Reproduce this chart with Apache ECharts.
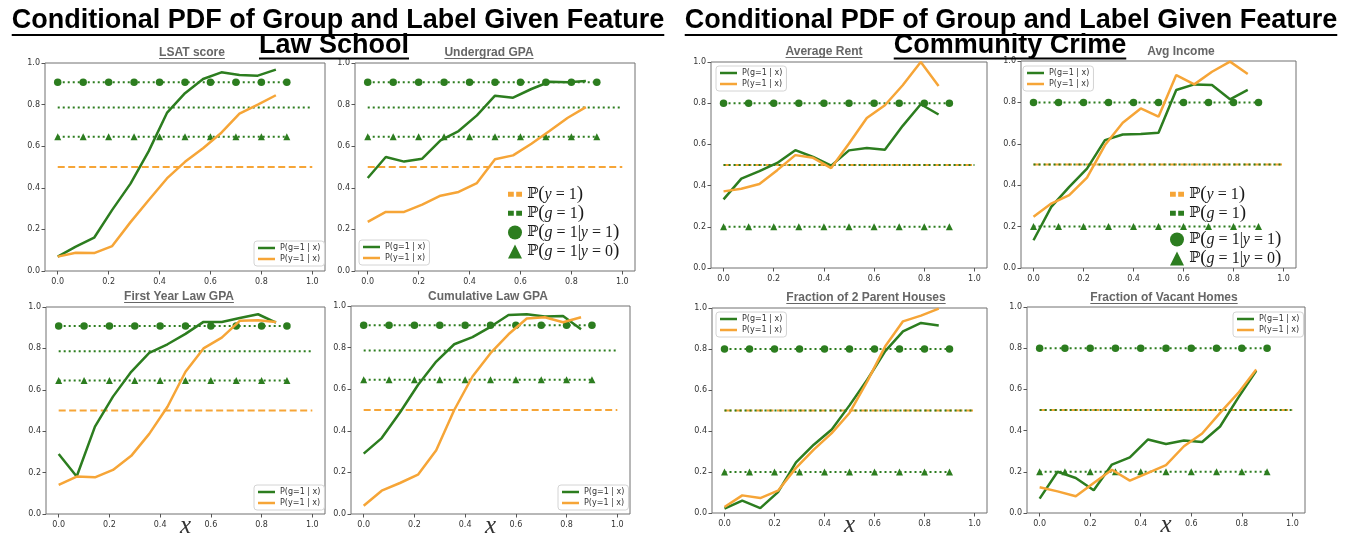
<!DOCTYPE html>
<html>
<head>
<meta charset="utf-8">
<script src="https://cdn.jsdelivr.net/npm/echarts@6/dist/echarts.min.js"></script>
<style>
  html, body { margin: 0; padding: 0; background: #fff; }
  #chart { width: 1350px; height: 538px; }
</style>
</head>
<body>
<div id="chart"></div>
<script>
// ---- data -------------------------------------------------------------
// feature bins (normalised feature value) of the conditional estimates
const binX = [0, 0.071, 0.143, 0.214, 0.286, 0.357, 0.429, 0.5, 0.571, 0.643, 0.714, 0.786, 0.857];
// positions of the marker rows and the reference lines
const markerX = [0, 0.1, 0.2, 0.3, 0.4, 0.5, 0.6, 0.7, 0.8, 0.9];
const baseX = [0, 1];
const xTicks = [0, 0.2, 0.4, 0.6, 0.8, 1.0];

const suptitle = 'Conditional PDF of Group and Label Given Feature';
const datasetNames = ['Law School', 'Community Crime'];
const featureNames = ['LSAT score', 'Undergrad GPA', 'First Year Law GPA', 'Cumulative Law GPA',
                      'Average Rent', 'Avg Income', 'Fraction of 2 Parent Houses', 'Fraction of Vacant Homes'];

// Law School: P(g=1 | x) and P(y=1 | x)
const lsatG = [0.069, 0.117, 0.16, 0.294, 0.42, 0.575, 0.76, 0.855, 0.923, 0.955, 0.942, 0.939, 0.968];
const lsatY = [0.069, 0.088, 0.086, 0.12, 0.235, 0.34, 0.445, 0.525, 0.59, 0.665, 0.757, 0.80, 0.845];
const ugpaG = [0.447, 0.548, 0.526, 0.54, 0.628, 0.673, 0.748, 0.843, 0.833, 0.875, 0.91, 0.907, 0.913];
const ugpaY = [0.236, 0.284, 0.284, 0.319, 0.362, 0.38, 0.423, 0.537, 0.556, 0.612, 0.673, 0.737, 0.788];
const fyaG = [0.29, 0.181, 0.422, 0.567, 0.687, 0.778, 0.82, 0.87, 0.928, 0.928, 0.947, 0.965, 0.925];
const fyaY = [0.141, 0.181, 0.177, 0.213, 0.281, 0.387, 0.518, 0.687, 0.80, 0.852, 0.933, 0.936, 0.928];
const cumG = [0.29, 0.365, 0.488, 0.62, 0.733, 0.816, 0.85, 0.9, 0.957, 0.96, 0.949, 0.952, 0.888];
const cumY = [0.04, 0.112, 0.149, 0.189, 0.306, 0.5, 0.661, 0.773, 0.864, 0.94, 0.946, 0.922, 0.946];

// Community Crime: P(g=1 | x) and P(y=1 | x)
const rentG = [0.333, 0.434, 0.47, 0.51, 0.572, 0.539, 0.497, 0.571, 0.582, 0.574, 0.69, 0.795, 0.745];
const rentY = [0.372, 0.385, 0.408, 0.475, 0.548, 0.535, 0.485, 0.604, 0.728, 0.79, 0.887, 1.0, 0.884];
const incG = [0.134, 0.295, 0.392, 0.48, 0.618, 0.645, 0.647, 0.653, 0.86, 0.887, 0.884, 0.815, 0.86];
const incY = [0.247, 0.311, 0.352, 0.437, 0.594, 0.702, 0.771, 0.731, 0.932, 0.887, 0.948, 0.997, 0.937];
const parG = [0.021, 0.06, 0.024, 0.102, 0.247, 0.333, 0.407, 0.525, 0.65, 0.79, 0.886, 0.927, 0.915];
const parY = [0.029, 0.086, 0.073, 0.109, 0.22, 0.309, 0.39, 0.488, 0.642, 0.813, 0.935, 0.963, 0.997];
const vacG = [0.07, 0.2, 0.17, 0.11, 0.235, 0.27, 0.357, 0.335, 0.352, 0.345, 0.42, 0.56, 0.69];
const vacY = [0.125, 0.105, 0.081, 0.146, 0.21, 0.157, 0.195, 0.232, 0.324, 0.386, 0.486, 0.583, 0.697];

// marginal / conditional reference values: [P(y=1), P(g=1), P(g=1|y=1), P(g=1|y=0)]
const lawRefs = [0.5, 0.786, 0.908, 0.645];
const crimeRefs = [0.5, 0.5, 0.8, 0.2];

// ---- layout -----------------------------------------------------------
const GREEN = '#2c7d1f';
const ORANGE = '#f6a537';
const TICK_FONT = 'DejaVu Sans';

const curves = [[lsatG, lsatY], [ugpaG, ugpaY], [fyaG, fyaY], [cumG, cumY],
                [rentG, rentY], [incG, incY], [parG, parY], [vacG, vacY]];
const refs = [lawRefs, lawRefs, lawRefs, lawRefs, crimeRefs, crimeRefs, crimeRefs, crimeRefs];

const panels = [
  { box: [45, 63, 280, 208],  title: [192, 52.5],  ul: true,  legend: [254, 241],  xName: false },
  { box: [355, 63, 280, 208], title: [489, 52.5],  ul: true,  legend: [359, 240],  xName: false },
  { box: [46, 307, 279, 207], title: [179, 296.5], ul: true,  legend: [254, 485],  xName: true },
  { box: [351, 306, 279, 208], title: [488, 296.5], ul: false, legend: [558, 485], xName: true },
  { box: [711, 62, 276, 206], title: [824, 51.5],  ul: true,  legend: [716, 66],   xName: false },
  { box: [1021, 61, 275, 207], title: [1181, 51.5], ul: false, legend: [1023, 66], xName: false },
  { box: [712, 308, 275, 205], title: [866, 297.5], ul: true, legend: [716, 312],  xName: true },
  { box: [1027, 307, 278, 206], title: [1164, 297.5], ul: true, legend: [1233, 312], xName: true }
];

const N_G = 'P(g=1 | x)', N_Y = 'P(y=1 | x)';
const M_Y = 'ℙ(y = 1)', M_G = 'ℙ(g = 1)', M_G1 = 'ℙ(g = 1|y = 1)', M_G0 = 'ℙ(g = 1|y = 0)';

const mathText = {};
mathText[M_Y] = '{bb|ℙ}{p|(}{i|y}{n| = 1}{p|)}';
mathText[M_G] = '{bb|ℙ}{p|(}{i|g}{n| = 1}{p|)}';
mathText[M_G1] = '{bb|ℙ}{p|(}{i|g}{n| = 1|}{i|y}{n| = 1}{p|)}';
mathText[M_G0] = '{bb|ℙ}{p|(}{i|g}{n| = 1|}{i|y}{n| = 0}{p|)}';

function mathRich(lh) {
  return {
    bb: { fontFamily: 'DejaVu Serif', fontSize: 15, color: '#1a1a1a', lineHeight: lh },
    p:  { fontFamily: 'Liberation Serif', fontSize: 19, color: '#1a1a1a', lineHeight: lh },
    i:  { fontFamily: 'Liberation Serif', fontStyle: 'italic', fontSize: 16, color: '#1a1a1a', lineHeight: lh },
    n:  { fontFamily: 'Liberation Serif', fontSize: 16, color: '#1a1a1a', lineHeight: lh }
  };
}
// two small squares, padded to a square bounding box
const dashIcon = 'path://M0,4.5h6v5h-6zM8.5,4.5h6v5h-6zM0,0h0.01v0.01h-0.01zM14.5,14.5h-0.01v-0.01h0.01z';

function mathLegend(left, top, names, lh) {
  const icons = {};
  icons[M_Y] = dashIcon; icons[M_G] = dashIcon; icons[M_G1] = 'circle'; icons[M_G0] = 'triangle';
  return {
    left: left, top: top, orient: 'vertical', selectedMode: false,
    itemWidth: 14, itemHeight: 14, itemGap: 0, padding: 0,
    data: names.map(n => ({ name: n, icon: icons[n] })),
    formatter: n => mathText[n],
    textStyle: { rich: mathRich(lh) }
  };
}

const grids = [], xAxes = [], yAxes = [], series = [], legends = [];

panels.forEach((P, i) => {
  grids.push({
    left: P.box[0], top: P.box[1], width: P.box[2], height: P.box[3],
    show: true, borderColor: '#707070', borderWidth: 1, backgroundColor: '#fff',
    containLabel: false, outerBoundsMode: 'none'
  });
  xAxes.push({
    gridIndex: i, type: 'value', min: -0.05, max: 1.05,
    name: P.xName ? 'x' : '', nameLocation: 'middle', nameGap: 0, nameMoveOverlap: false,
    nameTextStyle: { fontFamily: 'Liberation Serif', fontStyle: 'italic', fontSize: 25, color: '#333' },
    axisLine: { show: false, onZero: false },
    axisTick: { show: true, customValues: xTicks, length: 3.5, lineStyle: { color: '#555' } },
    axisLabel: { customValues: xTicks, formatter: v => v.toFixed(1), fontSize: 8, fontFamily: TICK_FONT, color: '#333', margin: 7 },
    splitLine: { show: false }
  });
  yAxes.push({
    gridIndex: i, type: 'value', min: 0, max: 1, interval: 0.2,
    axisLine: { show: false, onZero: false },
    axisTick: { show: true, length: 3.5, lineStyle: { color: '#555' } },
    axisLabel: { formatter: v => v.toFixed(1), fontSize: 8, fontFamily: TICK_FONT, color: '#333', margin: 5 },
    splitLine: { show: false }
  });

  const r = refs[i];
  const common = { type: 'line', xAxisIndex: i, yAxisIndex: i, silent: true, animation: false };
  series.push(Object.assign({}, common, {
    name: M_Y, data: baseX.map(x => [x, r[0]]), symbol: 'none', z: 2,
    lineStyle: { color: ORANGE, width: 2, type: [7, 3.5] }, itemStyle: { color: ORANGE, borderWidth: 0 }
  }));
  series.push(Object.assign({}, common, {
    name: M_G, data: baseX.map(x => [x, r[1]]), symbol: 'none', z: 3,
    lineStyle: { color: GREEN, width: 2, type: [2, 3] }, itemStyle: { color: GREEN, borderWidth: 0 }
  }));
  series.push(Object.assign({}, common, {
    name: M_G1, data: markerX.map(x => [x, r[2]]), symbol: 'circle', symbolSize: 7.5, showAllSymbol: true, z: 3,
    lineStyle: { color: GREEN, width: 2, type: [2, 3] }, itemStyle: { color: GREEN, borderWidth: 0 }
  }));
  series.push(Object.assign({}, common, {
    name: M_G0, data: markerX.map(x => [x, r[3]]), symbol: 'triangle', symbolSize: 7, showAllSymbol: true, z: 3,
    lineStyle: { color: GREEN, width: 2, type: [2, 3] }, itemStyle: { color: GREEN, borderWidth: 0 }
  }));
  series.push(Object.assign({}, common, {
    name: N_G, data: binX.map((x, k) => [x, curves[i][0][k]]), symbol: 'none', z: 4,
    lineStyle: { color: GREEN, width: 2.5 }, itemStyle: { color: GREEN, borderWidth: 0 }
  }));
  series.push(Object.assign({}, common, {
    name: N_Y, data: binX.map((x, k) => [x, curves[i][1][k]]), symbol: 'none', z: 5,
    lineStyle: { color: ORANGE, width: 2.5 }, itemStyle: { color: ORANGE, borderWidth: 0 }
  }));

  legends.push({
    left: P.legend[0], top: P.legend[1], orient: 'vertical', selectedMode: false,
    data: [N_G, N_Y], icon: 'rect', itemWidth: 17, itemHeight: 2.5, itemGap: 1,
    padding: [2, 4, 2, 4], borderColor: '#d4d4d4', borderWidth: 1, borderRadius: 3,
    backgroundColor: 'rgba(255,255,255,0.85)',
    textStyle: { fontSize: 8, fontFamily: TICK_FONT, color: '#333', lineHeight: 10 }
  });
});

// symbol key for the reference lines
legends.push(mathLegend(508, 185, [M_Y, M_G, M_G1, M_G0], 19.5));
legends.push(mathLegend(1170, 185, [M_Y, M_G], 15));
legends.push(mathLegend(1170, 230, [M_G1, M_G0], 20));

// ---- titles (with underlines) ------------------------------------------
const measureCtx = document.createElement('canvas').getContext('2d');
function textWidth(str, weight, size, family) {
  measureCtx.font = weight + ' ' + size + 'px "' + family + '"';
  return measureCtx.measureText(str).width;
}
const graphics = [];
function addTitle(str, cx, cy, size, color, ulY, ulW) {
  graphics.push({
    type: 'text', x: cx, y: cy, z: 100, silent: true,
    style: { text: str, fontFamily: 'Liberation Sans', fontWeight: 'bold', fontSize: size, fill: color, align: 'center', verticalAlign: 'middle' }
  });
  if (ulY != null) {
    const w = textWidth(str, 'bold', size, 'Liberation Sans');
    graphics.push({
      type: 'line', z: 100, silent: true,
      shape: { x1: cx - w / 2, y1: ulY, x2: cx + w / 2, y2: ulY },
      style: { stroke: color, lineWidth: ulW }
    });
  }
}
addTitle(suptitle, 338, 21, 27, '#000', 35, 2);
addTitle(datasetNames[0], 334, 46, 27, '#000', 58.5, 2);
addTitle(suptitle, 1011, 21, 27, '#000', 35, 2);
addTitle(datasetNames[1], 1010, 46, 27, '#000', 58.5, 2);
panels.forEach((P, i) => {
  addTitle(featureNames[i], P.title[0], P.title[1], 12, '#666', P.ul ? P.title[1] + 6 : null, 1);
});

const chart = echarts.init(document.getElementById('chart'), null, { renderer: 'canvas' });
chart.setOption({
  animation: false,
  backgroundColor: '#fff',
  grid: grids,
  xAxis: xAxes,
  yAxis: yAxes,
  legend: legends,
  series: series,
  graphic: graphics
});
</script>
</body>
</html>
